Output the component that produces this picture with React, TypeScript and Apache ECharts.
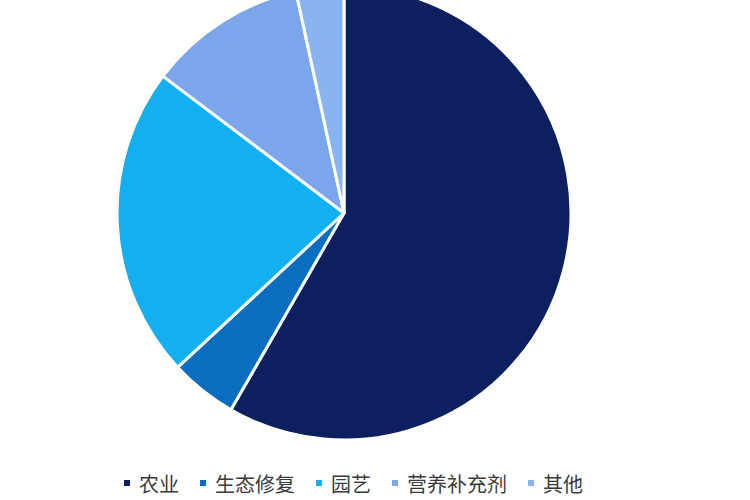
import React, { useEffect, useRef } from "react";
import * as echarts from "echarts";

const categories = ["农业", "生态修复", "园艺", "营养补充剂", "其他"];
const values = [58.3, 4.8, 22.2, 11.3, 3.4];
const colors = ["#0c1f5f", "#0b6dc0", "#12b0f0", "#7ba6ec", "#8ab4f0"];

export default function App() {
  const ref = useRef<HTMLDivElement>(null);
  useEffect(() => {
    if (!ref.current) return;
    const chart = echarts.init(ref.current, undefined, { renderer: "svg" });
    chart.setOption({
      animation: false,
      backgroundColor: "#ffffff",
      color: colors,
      legend: {
        bottom: 2,
        left: 117,
        icon: "rect",
        itemWidth: 8,
        itemHeight: 8,
        itemGap: 19,
        textStyle: {
          fontSize: 20,
          color: "#3a3a3a",
          fontFamily: "Noto Sans CJK SC",
          padding: [0, 0, 0, 3],
        },
        data: categories,
      },
      series: [
        {
          type: "pie",
          center: [344, 213],
          radius: 227,
          startAngle: 90,
          clockwise: true,
          label: { show: false },
          labelLine: { show: false },
          itemStyle: { borderColor: "#ffffff", borderWidth: 3 },
          emphasis: { disabled: true },
          data: categories.map((name, i) => ({ name, value: values[i] })),
        },
      ],
    });
    return () => chart.dispose();
  }, []);
  return <div ref={ref} style={{ width: 750, height: 500, position: "fixed", left: 0, top: 0 }} />;
}
